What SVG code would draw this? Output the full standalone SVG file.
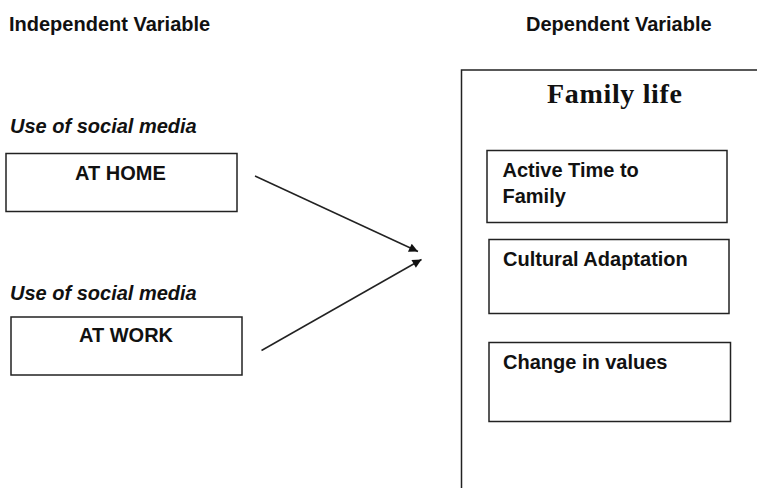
<svg xmlns="http://www.w3.org/2000/svg" width="757" height="488" viewBox="0 0 757 488">
  <style>
    .lbl { font-family: "Liberation Sans", Arial, sans-serif; font-weight: bold; font-size: 20px; fill: #111; }
    .it { font-style: italic; }
    .ttl { font-family: "Liberation Serif", "Times New Roman", serif; font-weight: bold; font-size: 28px; fill: #111; }
    .box { fill: #fff; stroke: #222; stroke-width: 1.5; }
    .conn { stroke: #222; stroke-width: 1.5; fill: none; marker-end: url(#arr); }
  </style>
  <defs>
    <marker id="arr" viewBox="0 0 10 10" refX="10" refY="5" markerWidth="8" markerHeight="6" markerUnits="strokeWidth" orient="auto">
      <path d="M0,0 L10,5 L0,10 Z" fill="#111"/>
    </marker>
  </defs>
  <rect width="757" height="488" fill="#fff"/>

  <g id="header-independent">
    <text class="lbl" x="9" y="31">Independent Variable</text>
  </g>
  <g id="header-dependent">
    <text class="lbl" x="526" y="31">Dependent Variable</text>
  </g>

  <g id="label-home">
    <text class="lbl it" x="10" y="133">Use of social media</text>
  </g>
  <g id="node-home">
    <rect class="box" x="6" y="153.5" width="231" height="58"/>
    <text class="lbl" x="75" y="180">AT HOME</text>
  </g>

  <g id="label-work">
    <text class="lbl it" x="10" y="300">Use of social media</text>
  </g>
  <g id="node-work">
    <rect class="box" x="11" y="317" width="231" height="58"/>
    <text class="lbl" x="79" y="342">AT WORK</text>
  </g>

  <g id="node-family-life">
    <rect class="box" x="461.5" y="70" width="320" height="450"/>
    <text class="ttl" x="547" y="103" textLength="135">Family life</text>
  </g>

  <g id="node-active-time">
    <rect class="box" x="487" y="150.5" width="240" height="72"/>
    <text class="lbl" x="502.5" y="177">Active Time to</text>
    <text class="lbl" x="502.5" y="203">Family</text>
  </g>

  <g id="node-cultural">
    <rect class="box" x="489" y="239.5" width="240" height="74"/>
    <text class="lbl" x="503" y="266">Cultural Adaptation</text>
  </g>

  <g id="node-values">
    <rect class="box" x="489" y="342.5" width="241.5" height="79"/>
    <text class="lbl" x="503" y="369">Change in values</text>
  </g>

  <g id="connectors">
    <line class="conn" x1="255" y1="176" x2="418" y2="251.5"/>
    <line class="conn" x1="261.5" y1="350.5" x2="421.5" y2="259.5"/>
  </g>
</svg>
